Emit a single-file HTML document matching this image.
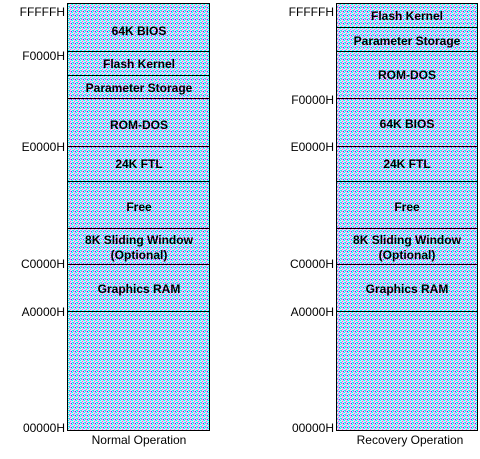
<!DOCTYPE html>
<html><head><style>
body{margin:0;background:#fff;width:480px;height:454px;overflow:hidden}
svg text{font-family:"Liberation Sans",Arial,sans-serif}
</style></head><body>
<svg width="480" height="454" xmlns="http://www.w3.org/2000/svg">
<defs>
<pattern id="d" width="4" height="4" patternUnits="userSpaceOnUse">
<rect width="4" height="4" fill="#e0e8f0"/>
<rect x="0" y="0" width="1" height="1" fill="#00ffff"/>
<rect x="2" y="1" width="1" height="1" fill="#ff40ff"/>
<rect x="1" y="2" width="1" height="1" fill="#20d0ff"/>
<rect x="3" y="3" width="1" height="1" fill="#4040ff"/>
<rect x="3" y="0" width="1" height="1" fill="#40ffff"/>
<rect x="1" y="3" width="1" height="1" fill="#b0a0d0"/>
<rect x="0" y="2" width="1" height="1" fill="#00ffff"/>
<rect x="2" y="3" width="1" height="1" fill="#ff80ff"/>
</pattern>
</defs>
<g stroke="#000" stroke-width="1">
<rect x="67.5" y="3.5" width="142" height="427" fill="url(#d)"/>
<rect x="336.5" y="3.5" width="141" height="427" fill="url(#d)"/>
<path d="M67 51.5H210M67 75.5H210M67 98.5H210M67 146.5H210M67 181.5H210M67 228.5H210M67 264.5H210M67 311.5H210"/>
<path d="M336 27.5H478M336 51.5H478M336 98.5H478M336 146.5H478M336 181.5H478M336 228.5H478M336 264.5H478M336 311.5H478"/>
</g>
<g font-size="12" font-weight="bold" text-anchor="middle" fill="#000">
<text x="139" y="35">64K BIOS</text>
<text x="139" y="68">Flash Kernel</text>
<text x="139" y="92">Parameter Storage</text>
<text x="139" y="129">ROM-DOS</text>
<text x="139" y="168">24K FTL</text>
<text x="139" y="211">Free</text>
<text x="139" y="244">8K Sliding Window</text>
<text x="139" y="259">(Optional)</text>
<text x="139" y="293">Graphics RAM</text>
<text x="407" y="20">Flash Kernel</text>
<text x="407" y="45">Parameter Storage</text>
<text x="407" y="79">ROM-DOS</text>
<text x="407" y="128">64K BIOS</text>
<text x="407" y="168">24K FTL</text>
<text x="407" y="211">Free</text>
<text x="407" y="244">8K Sliding Window</text>
<text x="407" y="259">(Optional)</text>
<text x="407" y="293">Graphics RAM</text>
</g>
<g font-size="12" text-anchor="end" fill="#000">
<text x="65" y="16">FFFFFH</text>
<text x="65" y="60">F0000H</text>
<text x="65" y="151">E0000H</text>
<text x="65" y="268">C0000H</text>
<text x="65" y="316">A0000H</text>
<text x="65" y="432">00000H</text>
<text x="334" y="16">FFFFFH</text>
<text x="334" y="104">F0000H</text>
<text x="334" y="151">E0000H</text>
<text x="334" y="268">C0000H</text>
<text x="334" y="316">A0000H</text>
<text x="334" y="432">00000H</text>
</g>
<g font-size="12" text-anchor="middle" fill="#000">
<text x="139" y="444">Normal Operation</text>
<text x="410" y="444">Recovery Operation</text>
</g>
</svg>
</body></html>
